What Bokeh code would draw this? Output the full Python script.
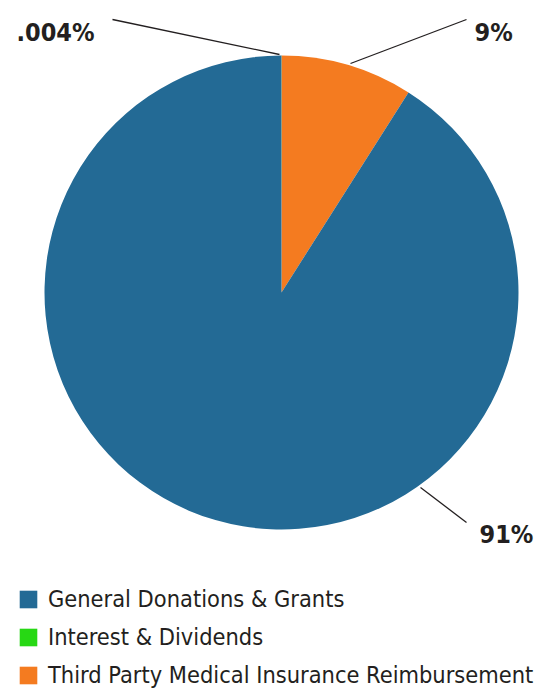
import math
from bokeh.plotting import figure
from bokeh.models import ColumnDataSource, Range1d, Legend, LegendItem
from bokeh.core.properties import value
from bokeh.embed import file_html
from bokeh.resources import INLINE

# ---- data ----
categories = ["Third Party Medical Insurance Reimbursement", "General Donations & Grants", "Interest & Dividends"]
values = [9.0, 91.0, 0.004]
colors = ["#F47B20", "#236A95", "#27D814"]
legend_order = ["General Donations & Grants", "Interest & Dividends", "Third Party Medical Insurance Reimbursement"]
label_texts = [".004%", "9%", "91%"]

FONT = "DejaVu Sans Condensed"
TXT = "#231f20"

W, H = 551, 694
p = figure(width=W, height=H, output_backend="svg", toolbar_location=None,
           x_range=Range1d(0, 551), y_range=Range1d(0, 694), min_border=0)
p.axis.visible = False
p.grid.visible = False
p.outline_line_color = None

def Y(sy):
    return 694 - sy

# pie
cx, cy, r = 281, Y(292), 237
total = sum(values)
starts, ends = [], []
acc = 0.0
for v in values:
    starts.append(math.pi / 2 - acc / total * 2 * math.pi)
    acc += v
    ends.append(math.pi / 2 - acc / total * 2 * math.pi)
src = ColumnDataSource(dict(cat=categories, val=values, color=colors, start=starts, end=ends,
                            x=[cx] * 3, y=[cy] * 3))
wr = p.wedge(x="x", y="y", radius=r, radius_units="screen", start_angle="start", end_angle="end",
             direction="clock", fill_color="color", line_color=None, source=src)

# leader lines (layout)
lx0 = [112, 466, 466]
ly0 = [Y(19), Y(19), Y(522)]
lx1 = [279, 350, 420]
ly1 = [Y(54), Y(63), Y(487)]
p.segment(x0=lx0, y0=ly0, x1=lx1, y1=ly1, line_color="#231f20", line_width=1.3)

# labels (layout)
tx = [16, 474, 479]
ty = [Y(32), Y(32), Y(534)]
p.text(x=tx, y=ty, text=label_texts, text_font=value(FONT), text_font_style="bold",
       text_font_size="25px", text_color=TXT, text_align="left", text_baseline="alphabetic")

# legend
items = [LegendItem(label=c, renderers=[wr], index=categories.index(c)) for c in legend_order]
legend = Legend(items=items, location=(17, 5), orientation="vertical",
                glyph_width=22, glyph_height=22, label_height=22, spacing=10,
                label_standoff=9, padding=0, margin=0, border_line_color=None,
                background_fill_alpha=0, label_text_font=FONT, label_text_font_size="23.4px",
                label_text_color=TXT)
p.add_layout(legend)

open("out.html", "w").write(file_html(p, INLINE))
